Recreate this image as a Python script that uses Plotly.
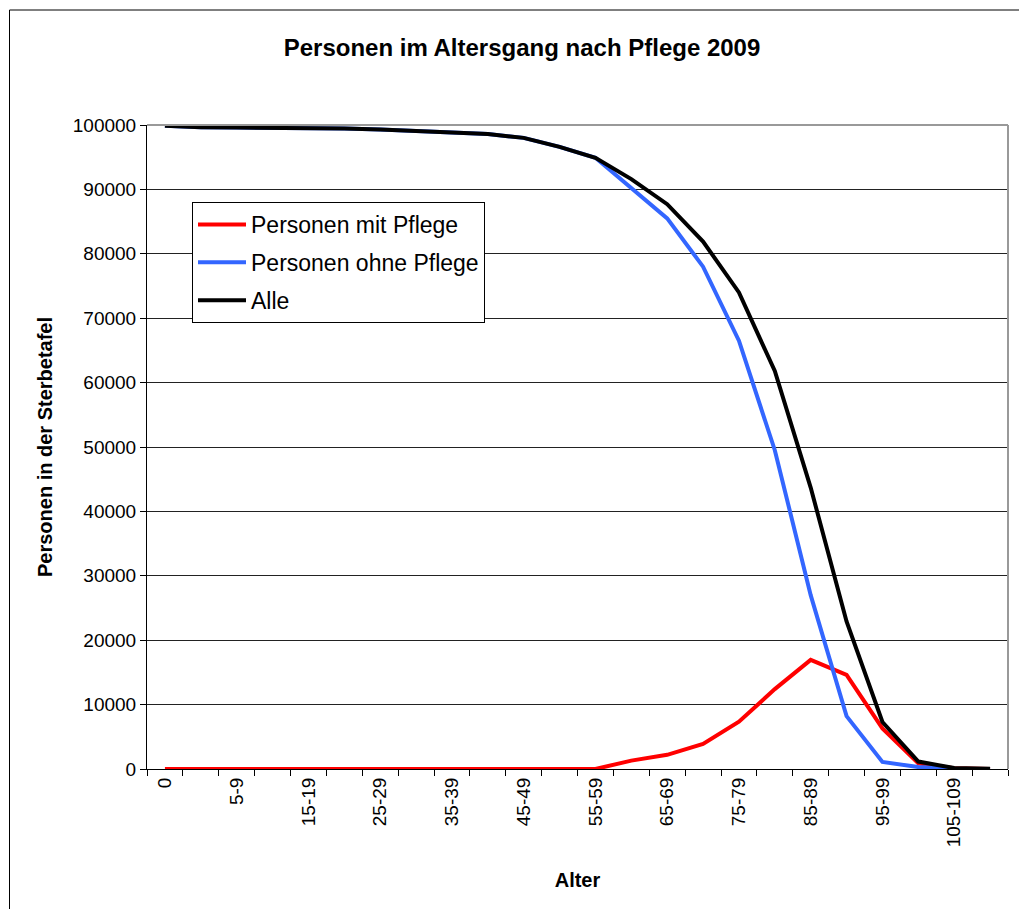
import plotly.graph_objects as go

# age groups of the life table
ALTER = ["0", "1-4", "5-9", "10-14", "15-19", "20-24", "25-29", "30-34",
         "35-39", "40-44", "45-49", "50-54", "55-59", "60-64", "65-69",
         "70-74", "75-79", "80-84", "85-89", "90-94", "95-99", "100-104",
         "105-109", "110+"]

MIT_PFLEGE = [0, 0, 0, 0, 0, 0, 0, 0, 0, 0, 0, 0, 0,
              1300, 2200, 3900, 7350, 12400, 16950, 14600, 6300, 880, 120, 15]
OHNE_PFLEGE = [99900, 99650, 99600, 99600, 99550, 99450, 99300, 99100, 98900,
               98600, 98000, 96600, 94900, 90300, 85500, 78000, 66500, 49500,
               27000, 8200, 1100, 300, 30, 5]
ALLE = [99900, 99650, 99600, 99600, 99550, 99450, 99300, 99100, 98900,
        98600, 98000, 96600, 94900, 91600, 87700, 81900, 74000, 61800,
        43700, 22900, 7300, 1150, 150, 20]

TICKTEXT = [a if i % 2 == 0 else "" for i, a in enumerate(ALTER)]

FONT = "Arial, 'Liberation Sans', sans-serif"

W, H = 1019, 909
L, R, T, B = 147, 11, 125, 140
PW, PH = W - L - R, H - T - B


def px_x(x):
    return (x - L) / PW


def px_y(y):
    return (H - B - y) / PH


fig = go.Figure()
series = [
    ("Personen mit Pflege", MIT_PFLEGE, "#FF0000"),
    ("Personen ohne Pflege", OHNE_PFLEGE, "#3366FF"),
    ("Alle", ALLE, "#000000"),
]
for name, vals, color in series:
    fig.add_trace(go.Scatter(
        x=ALTER, y=vals, mode="lines", name=name, legendgroup=name,
        line=dict(color=color, width=4),
    ))

shapes = [
    # outer chart frame
    dict(type="rect", xref="paper", yref="paper",
         x0=px_x(9.5), x1=px_x(1030), y0=px_y(10), y1=px_y(930),
         line=dict(color="#000000", width=1)),
    # grey top / right border of plot area
    dict(type="line", xref="paper", yref="paper", x0=0, x1=1, y0=1, y1=1,
         line=dict(color="#999999", width=2)),
    dict(type="line", xref="paper", yref="paper", x0=1, x1=1, y0=0, y1=1,
         line=dict(color="#999999", width=2)),
]

fig.update_layout(
    width=W, height=H,
    margin=dict(l=L, r=R, t=T, b=B),
    paper_bgcolor="white", plot_bgcolor="white",
    font=dict(family=FONT, color="#000000", size=19),
    title=dict(text="<b>Personen im Altersgang nach Pflege 2009</b>",
               x=522 / W, xanchor="center", y=1 - 48 / H, yanchor="middle",
               font=dict(size=24)),
    xaxis=dict(
        type="category", range=[-0.5, len(ALTER) - 0.5],
        tickmode="array", tickvals=ALTER, ticktext=TICKTEXT,
        tickson="boundaries", ticks="outside", ticklen=6, tickcolor="#000",
        tickangle=-90, tickfont=dict(size=19),
        showline=True, linecolor="#000", linewidth=1, showgrid=False,
        title=dict(text="<b>Alter</b>", font=dict(size=20), standoff=26),
    ),
    yaxis=dict(
        range=[0, 100000], dtick=10000, tickformat="d",
        ticks="outside", ticklen=6, tickcolor="#000", tickfont=dict(size=19),
        showline=True, linecolor="#000", linewidth=1,
        showgrid=True, gridcolor="#222222", gridwidth=1, zeroline=False,
        title=dict(text="<b>Personen in der Sterbetafel</b>",
                   font=dict(size=20), standoff=14),
    ),
    legend=dict(
        x=px_x(192), y=px_y(202), xanchor="left", yanchor="top",
        bgcolor="white", bordercolor="#000", borderwidth=1,
        font=dict(size=23), tracegroupgap=5, traceorder="grouped",
        itemwidth=48,
    ),
    shapes=shapes,
)

fig.write_html("out.html", config={"displayModeBar": False},
               post_script="document.body.style.margin='0';")
